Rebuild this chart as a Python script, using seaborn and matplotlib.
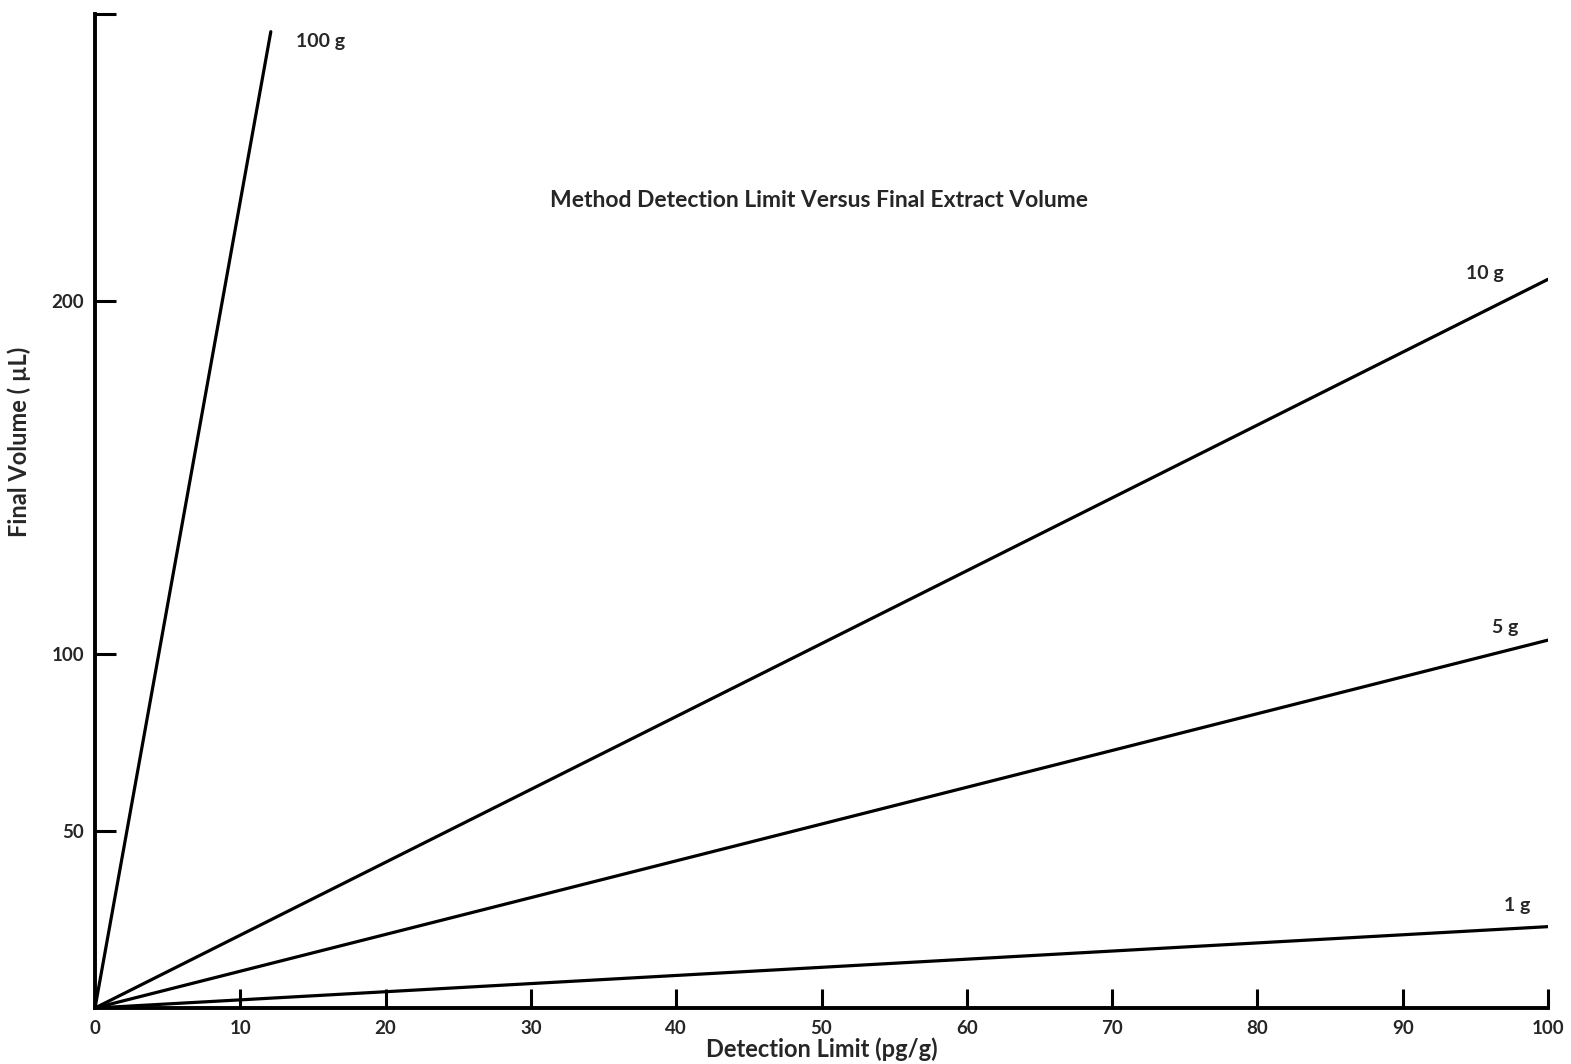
import pandas as pd
import matplotlib.pyplot as plt
import seaborn as sns

# ==============================
# DATA
# ==============================
sample_sizes = ["1 g", "5 g", "10 g", "100 g"]
# each line runs from the origin to its end point
limit_start = [0, 0, 0, 0]
volume_start = [0, 0, 0, 0]
limit_end = [100, 100, 100, 12.1]
volume_end = [23, 104, 206, 276]

x_ticks = [0, 10, 20, 30, 40, 50, 60, 70, 80, 90, 100]
y_ticks = [50, 100, 200]

title = "Method Detection Limit Versus Final Extract Volume"
x_label = "Detection Limit (pg/g)"
y_label = "Final Volume ( \u00b5L)"

# label offsets from each line end, in pixels
label_offsets = {"1 g": (-18, 21), "5 g": (-30, 13), "10 g": (-44, 6), "100 g": (25, -10)}
label_align = {"1 g": "right", "5 g": "right", "10 g": "right", "100 g": "left"}

rows = []
for name, x0, y0, x1, y1 in zip(sample_sizes, limit_start, volume_start, limit_end, volume_end):
    rows.append({"sample": name, "limit": x0, "volume": y0})
    rows.append({"sample": name, "limit": x1, "volume": y1})
df = pd.DataFrame(rows)

# ==============================
# PLOT
# ==============================
sns.set_style("white")
plt.rcParams["font.family"] = ["Lato", "DejaVu Sans"]
plt.rcParams["font.weight"] = "bold"

fig = plt.figure(figsize=(15.71, 10.64), dpi=100)
ax = fig.add_axes([95 / 1571, 56 / 1064, 1453 / 1571, 994 / 1064])

sns.lineplot(data=df, x="limit", y="volume", units="sample", estimator=None,
             color="black", linewidth=2.3, ax=ax, legend=False)

ax.set_xlim(0, 100)
ax.set_ylim(0, 281)

for spine in ["top", "right"]:
    ax.spines[spine].set_visible(False)
for spine in ["left", "bottom"]:
    ax.spines[spine].set_linewidth(2.8)
    ax.spines[spine].set_color("black")

ax.set_xticks(x_ticks)
ax.set_xticklabels([str(t) for t in x_ticks])
ax.set_yticks(y_ticks + [281])
ax.set_yticklabels([str(t) for t in y_ticks] + [""])
ax.tick_params(axis="x", bottom=True, direction="in", length=14, width=2.2,
               color="black", pad=9, labelsize=13.5)
ax.tick_params(axis="y", left=True, direction="in", length=15, width=2.2,
               color="black", pad=8, labelsize=13.5)

ax.set_xlabel(x_label, fontsize=17, fontweight="bold", labelpad=0)
ax.set_ylabel(y_label, fontsize=17, fontweight="bold")
ax.yaxis.set_label_coords(-0.044, 0.57)

ax.text(0.498, 0.812, title, transform=ax.transAxes, ha="center", va="center",
        fontsize=16.5, fontweight="bold")

for name, x1, y1 in zip(sample_sizes, limit_end, volume_end):
    ax.annotate(name, (x1, y1), xytext=label_offsets[name], textcoords="offset pixels",
                ha=label_align[name], va="center", fontsize=14, fontweight="bold")

plt.savefig("out.png", dpi=100)
plt.close()
